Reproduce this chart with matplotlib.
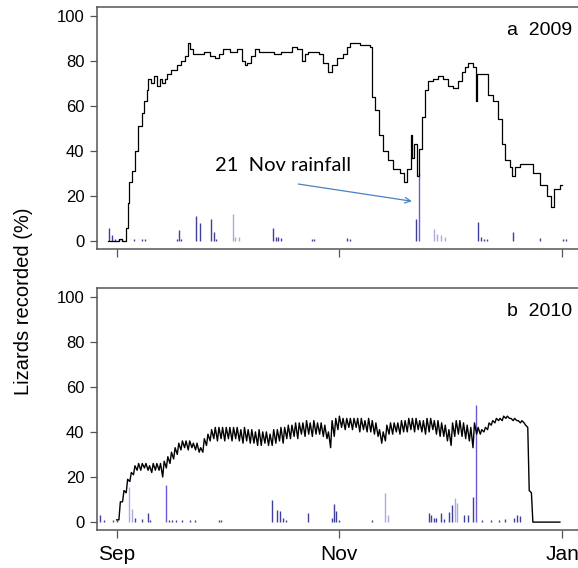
import numpy as np
import matplotlib
matplotlib.use('Agg')
import matplotlib.pyplot as plt

# days counted from 1 Sep (Nov 1 = 61, Jan 1 = 122)
month_ticks = [0, 61, 122]
month_labels = ['Sep', 'Nov', 'Jan']

# 2009: lizards recorded (%)
liz09_day = [-2.3, 0.5, 1.5, 2.5, 3.0, 3.5, 4.1, 5.0, 5.9, 6.8, 7.5, 8.2, 8.7, 9.5, 10.3,
             11.0, 11.8, 12.5, 13.2, 13.8, 15.0, 16.5, 17.5, 18.7, 19.6, 20.2, 21.0, 22.5,
             24.0, 25.5, 27.0, 28.0, 29.0, 31.0, 33.0, 34.4, 35.2, 35.8, 36.8, 37.9, 39.0,
             41.0, 43.0, 45.0, 46.7, 48.0, 49.5, 50.7, 51.5, 52.5, 54.0, 55.5, 56.5, 57.9,
             59.0, 60.3, 62.0, 63.0, 63.9, 65.0, 66.7, 68.0, 69.4, 69.9, 70.8, 71.9, 73.0,
             74.3, 75.7, 77.6, 78.7, 79.5, 80.5, 81.0, 81.5, 82.2, 82.8, 83.6, 84.5, 85.4,
             86.7, 88.0, 89.4, 90.8, 92.2, 93.5, 94.5, 95.5, 96.3, 97.7, 98.5, 98.8, 100.4,
             101.7, 103.0, 104.5, 105.5, 106.4, 107.7, 108.4, 109.1, 110.5, 112.7, 114.1,
             116.0, 117.8, 119.0, 119.9, 121.4, 122.0]
liz09_pct = [0, 1, 0, 6, 17, 26, 31, 40, 51, 57, 62, 67, 72, 70, 73,
             69, 72, 70, 72, 74, 76, 78, 80, 82, 88, 85, 83, 83,
             84, 82, 81, 83, 85, 84, 85, 80, 78, 79, 82, 85, 84,
             84, 83, 84, 84, 86, 85, 80, 83, 84, 84, 83, 79, 75,
             78, 81, 83, 86, 88, 88, 87, 87, 86, 64, 58, 47, 40,
             36, 32, 30, 26, 32, 47, 37, 43, 29, 41, 55, 67, 71,
             72, 73, 72, 69, 68, 71, 75, 77, 79, 77, 62, 74, 74,
             65, 62, 54, 43, 36, 33, 29, 33, 34, 34, 30,
             25, 20, 15, 23, 25, 25]

# 2009 rainfall (scaled to the % axis), source 0 = dark, 1 = light, 2 = mid
rain09_day = [-2.0, -1.3, -0.5, 0.5, 1.5, 4.7, 6.9, 7.8, 16.5, 17.0, 17.6, 21.8, 22.7, 25.8,
              26.6, 27.3, 31.8, 32.5, 33.6, 42.8, 43.5, 44.3, 45.1, 53.5, 54.0, 63.0, 64.0,
              82.0, 82.9, 86.8, 87.8, 88.9, 89.8, 99.0, 99.7, 100.6, 101.5, 108.6, 116.0,
              122.3, 123.0]
rain09_val = [6, 2.6, 1, 1, 1, 1, 1, 1, 1, 5, 1, 11, 8, 9.7,
              4, 1, 12, 2, 2, 6, 2, 2, 1.5, 1, 1, 1.5, 1,
              10, 30, 5.3, 3, 2.5, 2, 8.3, 2, 1, 1, 4, 1.5,
              1, 1]
rain09_src = [0, 0, 0, 0, 0, 0, 0, 0, 0, 0, 0, 0, 0, 0,
              0, 0, 1, 1, 1, 0, 0, 0, 0, 0, 0, 0, 0,
              0, 2, 1, 1, 1, 1, 0, 0, 0, 0, 0, 0,
              0, 0]

# 2010: daily high / low of lizards recorded (%), day 0 .. 114, then zero to day 121
liz10_high = [1, 9, 14, 19, 22, 25, 26, 26, 26, 25, 26, 26, 26, 27, 29, 31, 33, 35, 36, 36,
              36, 35, 35, 33, 37, 39, 41, 42, 42, 42, 42, 42, 42, 42, 41, 42, 41, 41, 40, 41,
              40, 40, 39, 41, 41, 42, 42, 43, 43, 44, 44, 44, 45, 44, 45, 44, 44, 43, 40, 45,
              46, 47, 46, 46, 46, 46, 46, 46, 45, 46, 45, 44, 41, 40, 43, 44, 44, 44, 45, 45,
              46, 46, 46, 45, 45, 46, 46, 45, 45, 44, 43, 41, 44, 45, 45, 44, 43, 42, 44, 42,
              41, 42, 44, 45, 46, 46, 47, 47, 46, 46, 45, 45, 43, 14, 0]
liz10_low = [1, 9, 13, 18, 21, 23, 23, 24, 23, 22, 23, 23, 20, 24, 26, 28, 30, 32, 33, 32,
             33, 32, 31, 31, 34, 36, 37, 36, 37, 36, 37, 36, 37, 36, 35, 36, 35, 35, 34, 34,
             35, 34, 34, 35, 36, 35, 37, 37, 38, 37, 39, 38, 39, 38, 39, 39, 38, 37, 33, 38,
             41, 42, 41, 42, 41, 42, 40, 41, 40, 40, 39, 38, 35, 36, 39, 39, 40, 39, 40, 40,
             41, 40, 41, 40, 39, 40, 41, 39, 38, 38, 36, 34, 38, 39, 38, 37, 36, 33, 39, 39,
             40, 41, 43, 44, 45, 45, 46, 46, 45, 45, 44, 44, 42, 13, 0]
liz10_end = 121.4

rain10_day = [-4.5, -3.6, -1.0, 0.0, 3.5, 4.1, 5.0, 7.0, 8.5, 9.2, 13.5, 14.3, 15.2, 16.2,
              18.0, 20.0, 21.5, 28.0, 28.6, 42.5, 44.0, 44.6, 45.6, 46.5, 52.4, 59.0, 59.5,
              60.0, 60.8, 70.0, 73.6, 74.3, 85.5, 86.1, 86.8, 87.6, 88.7, 89.6, 91.0, 91.8,
              92.6, 93.3, 95.0, 96.2, 97.5, 98.5, 100.0, 102.5, 104.6, 106.5, 108.7, 109.6,
              110.5]
rain10_val = [3, 1, 1, 1, 15.7, 6, 2, 1.5, 4, 1, 16.4, 1, 1, 1,
              1, 1, 1, 1, 1, 10, 5.3, 5, 2, 1, 4, 2, 8,
              5, 1, 1, 12.7, 3, 4, 3, 2, 2, 4, 1.5, 4.6, 7.5,
              10.5, 8.3, 3, 3, 11.3, 52, 1, 1, 1, 1.5, 2, 3,
              2.5]
rain10_src = [0, 0, 0, 0, 1, 1, 0, 0, 0, 0, 2, 0, 0, 0,
              0, 0, 0, 0, 0, 0, 0, 0, 0, 0, 0, 0, 0,
              0, 0, 0, 1, 1, 0, 0, 0, 0, 0, 0, 0, 0,
              1, 1, 0, 0, 0, 2, 0, 0, 0, 0, 0, 0,
              0]

rain_colors = ['#3f3f9e', '#aaaadf', '#6a5ad8']

plt.rcParams['font.family'] = ['Liberation Sans', 'DejaVu Sans']

fig = plt.figure(figsize=(5.78, 5.68), dpi=100)
ax1 = fig.add_axes([0.1678, 0.5616, 0.8356, 0.426])
ax2 = fig.add_axes([0.1678, 0.0669, 0.8356, 0.426])

for ax in (ax1, ax2):
    ax.set_xlim(-5.4, 126.9)
    ax.set_ylim(-3.5, 103.8)
    ax.set_yticks([0, 20, 40, 60, 80, 100])
    ax.set_xticks(month_ticks)
    ax.tick_params(axis='y', direction='out', length=5, width=0.9, labelsize=12,
                   color='#555555', pad=4)
    ax.tick_params(axis='x', direction='out', length=6, width=0.9, color='#555555')
    for s in ax.spines.values():
        s.set_color('#555555')
        s.set_linewidth(1.1)

# panel a
ax1.vlines(rain09_day, 0, rain09_val, colors=[rain_colors[k] for k in rain09_src], lw=1.0)
ax1.plot(liz09_day, liz09_pct, color='black', lw=0.9, drawstyle='steps-post')
ax1.set_xticklabels([])
ax1.text(124.7, 93.5, 'a  2009', ha='right', va='center', fontsize=14)
ax1.annotate('', xy=(81.6, 17.5), xytext=(49.0, 25.5),
             arrowprops=dict(arrowstyle='->', color='#4a80c4', lw=0.9))
ax1.text(26.8, 33.5, '21  Nov rainfall', ha='left', va='center', fontsize=14.5,
         family=['Lato', 'DejaVu Sans'])

# panel b
xs, ys = [], []
for d in range(len(liz10_high)):
    xs += [d, d + 0.6]
    ys += [liz10_high[d], liz10_low[d]]
xs.append(liz10_end)
ys.append(0)
ax2.vlines(rain10_day, 0, rain10_val, colors=[rain_colors[k] for k in rain10_src], lw=1.0)
ax2.plot(xs, ys, color='black', lw=1.0)
ax2.set_xticklabels(month_labels, fontsize=15)
ax2.tick_params(axis='x', pad=5)
ax2.text(124.7, 93.5, 'b  2010', ha='right', va='center', fontsize=14)

fig.text(0.04, 0.47, 'Lizards recorded (%)', rotation=90, ha='center', va='center',
         fontsize=14.5)

plt.savefig('out.png', dpi=100)
